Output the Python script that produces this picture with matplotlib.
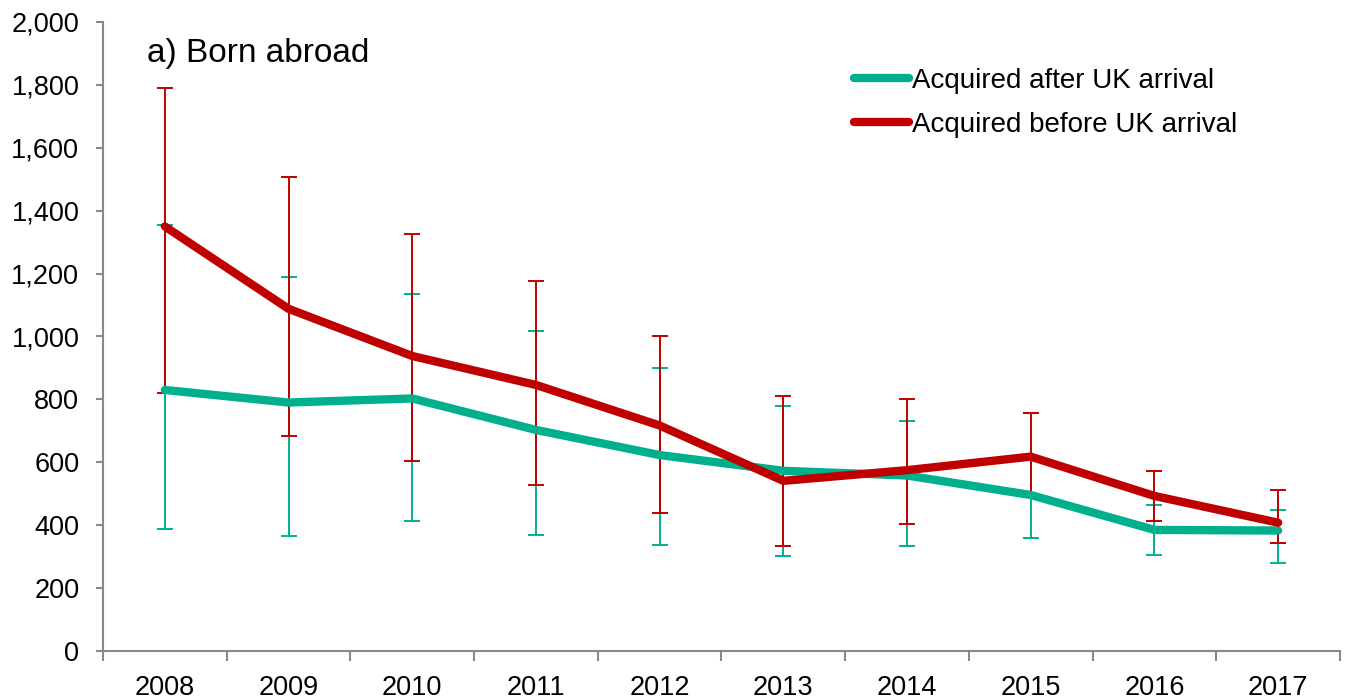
import matplotlib
matplotlib.use('Agg')
import matplotlib.pyplot as plt
from matplotlib.ticker import FuncFormatter, FixedLocator

plt.rcParams['font.family'] = ['Liberation Sans', 'DejaVu Sans']

# --- data ---
years = ["2008", "2009", "2010", "2011", "2012", "2013", "2014", "2015", "2016", "2017"]

after_mid = [830, 790, 803, 703, 623, 573, 558, 496, 385, 383]
after_low = [389, 365, 414, 370, 337, 303, 335, 359, 306, 280]
after_high = [1356, 1189, 1136, 1019, 900, 780, 732, 615, 463, 448]

before_mid = [1350, 1088, 938, 846, 717, 541, 575, 618, 493, 408]
before_low = [821, 684, 604, 528, 440, 333, 403, 490, 413, 342]
before_high = [1790, 1508, 1326, 1177, 1002, 810, 800, 756, 572, 512]

GREEN = "#00B08C"
RED = "#C00000"
AXIS = "#898989"

fig = plt.figure(figsize=(13.46, 7.0), dpi=100)
ax = fig.add_axes([0.0765, 0.07, 0.919, 0.8986])

x = list(range(len(years)))

def err(mid, low, high):
    return [[m - l for m, l in zip(mid, low)], [h - m for m, h in zip(mid, high)]]

# error bars first, lines on top
ax.errorbar(x, after_mid, yerr=err(after_mid, after_low, after_high), fmt='none',
            ecolor=GREEN, elinewidth=1.4, capsize=5.5, capthick=1.4, zorder=2)
ax.errorbar(x, before_mid, yerr=err(before_mid, before_low, before_high), fmt='none',
            ecolor=RED, elinewidth=1.4, capsize=5.5, capthick=1.4, zorder=3)
ax.plot(x, after_mid, color=GREEN, lw=6, solid_capstyle='round', solid_joinstyle='round',
        label="Acquired after UK arrival", zorder=4)
ax.plot(x, before_mid, color=RED, lw=6, solid_capstyle='round', solid_joinstyle='round',
        label="Acquired before UK arrival", zorder=5)

ax.set_xlim(-0.5, len(years) - 0.5)
ax.set_ylim(0, 2000)
ax.set_yticks(range(0, 2001, 200))
ax.yaxis.set_major_formatter(FuncFormatter(lambda v, p: f"{int(v):,}"))

ax.set_xticks(x)
ax.set_xticklabels(years)
ax.xaxis.set_minor_locator(FixedLocator([i - 0.5 for i in range(len(years) + 1)]))
ax.tick_params(axis='x', which='major', length=0, pad=17, labelsize=19.5)
ax.tick_params(axis='x', which='minor', length=7, width=1.5, color=AXIS, direction='out')
ax.tick_params(axis='y', length=5, width=1.5, color=AXIS, pad=12, labelsize=19.5)

for s in ['top', 'right']:
    ax.spines[s].set_visible(False)
for s in ['left', 'bottom']:
    ax.spines[s].set_color(AXIS)
    ax.spines[s].set_linewidth(1.5)

ax.text(0.0356, 0.950, "a) Born abroad", transform=ax.transAxes, fontsize=24,
        ha='left', va='center')

leg = ax.legend(loc='upper left', bbox_to_anchor=(0.607, 0.927), frameon=False,
                fontsize=20, handlelength=2.0, handletextpad=0.1, labelspacing=0.65,
                borderpad=0, borderaxespad=0)

fig.savefig("out.png", dpi=100)
